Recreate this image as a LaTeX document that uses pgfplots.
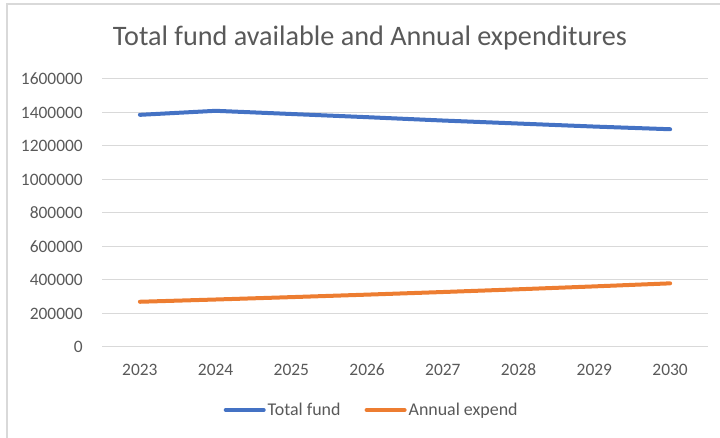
\documentclass[border=0pt]{standalone}
\usepackage{pgfplots}
\pgfplotsset{compat=1.18}
\usepackage{fontspec}
\setmainfont{Carlito}
\definecolor{txtgray}{HTML}{595959}
\definecolor{gridgray}{HTML}{D9D9D9}
\definecolor{xlblue}{HTML}{4472C4}
\definecolor{xlorange}{HTML}{ED7D31}
\begin{document}
\begin{tikzpicture}[x=1bp,y=1bp]
\useasboundingbox (0,0) rectangle (720,438);
\draw[gridgray, line width=1.2bp] (7,-5) |- (730,434);
\node[anchor=base, text=txtgray, font=\fontsize{28.3}{34}\selectfont, inner sep=0pt] at (370,392) {Total fund available and Annual expenditures};
\begin{axis}[
  at={(102bp,91bp)}, anchor=south west,
  scale only axis, width=606bp, height=268bp,
  xmin=-0.5, xmax=7.5, ymin=0, ymax=1600000,
  xtick={0,...,7},
  xticklabels={2023,2024,2025,2026,2027,2028,2029,2030},
  ytick={0,200000,...,1600000},
  scaled y ticks=false,
  /pgf/number format/fixed,
  /pgf/number format/1000 sep={},
  /pgf/number format/assume math mode=true,
  axis line style={draw=none},
  major tick length=0pt,
  ymajorgrids, grid style={gridgray, line width=1bp},
  tick label style={text=txtgray, font=\fontsize{17.5}{21}\selectfont, inner sep=0pt},
  yticklabel style={xshift=-19bp},
  xticklabel style={anchor=base, yshift=-29bp},
  legend columns=2,
  legend style={draw=none, at={(0.445,-0.235)}, anchor=center,
    font=\fontsize{18}{21}\selectfont, text=txtgray,
    /tikz/every even column/.append style={column sep=22bp},
    nodes={inner sep=2bp}},
  legend image code/.code={\draw[#1, line cap=round] (0bp,0bp) -- (38bp,0bp);},
  clip=false,
]
\addplot[xlblue, line width=4bp, line cap=round, line join=round] coordinates {
(0,1386000) (1,1410000) (2,1391000) (3,1372000) (4,1352000) (5,1334000) (6,1316000) (7,1300000)};
\addlegendentry{Total fund}
\addplot[xlorange, line width=4bp, line cap=round, line join=round] coordinates {
(0,270000) (1,283500) (2,297700) (3,312600) (4,328200) (5,344600) (6,361800) (7,380000)};
\addlegendentry{Annual expend}
\end{axis}
\end{tikzpicture}
\end{document}
